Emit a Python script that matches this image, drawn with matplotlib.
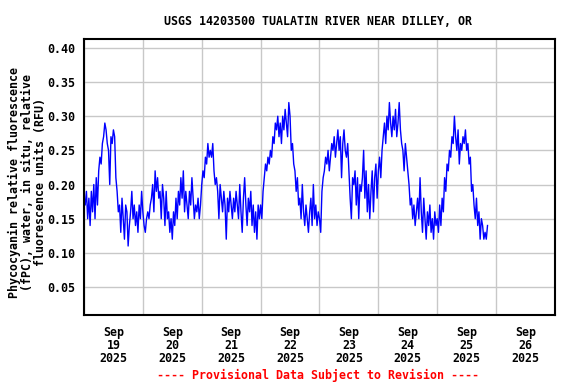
import numpy as np
import pandas as pd
import matplotlib
matplotlib.use('Agg')
import matplotlib.pyplot as plt
import matplotlib.dates as mdates

# Valores de fluorescencia (RFU), cada 30 minutos, un bloque por dia
dia_19 = [0.18, 0.17, 0.19, 0.15, 0.18, 0.14, 0.19, 0.16, 0.20, 0.15, 0.21, 0.17,
          0.22, 0.24, 0.23, 0.26, 0.27, 0.29, 0.28, 0.26, 0.25, 0.20, 0.27, 0.26,
          0.28, 0.27, 0.21, 0.19, 0.16, 0.17, 0.13, 0.18, 0.15, 0.12, 0.17, 0.16,
          0.11, 0.14, 0.16, 0.19, 0.15, 0.17, 0.14, 0.16, 0.13, 0.17, 0.15, 0.19]
dia_20 = [0.16, 0.14, 0.13, 0.15, 0.16, 0.15, 0.17, 0.18, 0.20, 0.16, 0.22, 0.19,
          0.21, 0.18, 0.19, 0.15, 0.20, 0.18, 0.14, 0.19, 0.15, 0.16, 0.13, 0.15,
          0.12, 0.16, 0.14, 0.18, 0.15, 0.19, 0.17, 0.21, 0.18, 0.22, 0.16, 0.19,
          0.17, 0.15, 0.19, 0.17, 0.21, 0.18, 0.15, 0.17, 0.16, 0.18, 0.15, 0.17]
dia_21 = [0.20, 0.22, 0.21, 0.24, 0.23, 0.26, 0.24, 0.25, 0.24, 0.26, 0.22, 0.20,
          0.21, 0.19, 0.15, 0.20, 0.18, 0.16, 0.19, 0.17, 0.12, 0.18, 0.16, 0.19,
          0.17, 0.15, 0.18, 0.16, 0.19, 0.17, 0.15, 0.20, 0.16, 0.13, 0.18, 0.21,
          0.17, 0.14, 0.18, 0.16, 0.19, 0.14, 0.17, 0.13, 0.16, 0.12, 0.17, 0.15]
dia_22 = [0.17, 0.15, 0.19, 0.21, 0.23, 0.22, 0.24, 0.23, 0.25, 0.24, 0.27, 0.26,
          0.29, 0.28, 0.30, 0.27, 0.29, 0.26, 0.30, 0.28, 0.31, 0.29, 0.27, 0.32,
          0.30, 0.25, 0.26, 0.23, 0.22, 0.19, 0.21, 0.17, 0.18, 0.15, 0.20, 0.16,
          0.14, 0.17, 0.15, 0.13, 0.16, 0.18, 0.14, 0.20, 0.15, 0.17, 0.14, 0.16]
dia_23 = [0.15, 0.13, 0.19, 0.21, 0.22, 0.24, 0.23, 0.25, 0.22, 0.24, 0.26, 0.25,
          0.27, 0.24, 0.26, 0.28, 0.25, 0.27, 0.21, 0.26, 0.28, 0.25, 0.24, 0.26,
          0.22, 0.18, 0.15, 0.21, 0.20, 0.22, 0.17, 0.21, 0.15, 0.20, 0.19, 0.21,
          0.25, 0.18, 0.22, 0.16, 0.20, 0.15, 0.19, 0.22, 0.16, 0.21, 0.23, 0.18]
dia_24 = [0.22, 0.24, 0.21, 0.25, 0.27, 0.29, 0.26, 0.30, 0.28, 0.32, 0.29, 0.27,
          0.30, 0.28, 0.31, 0.27, 0.29, 0.32, 0.28, 0.26, 0.25, 0.22, 0.26, 0.24,
          0.22, 0.20, 0.17, 0.18, 0.15, 0.17, 0.14, 0.16, 0.18, 0.15, 0.21, 0.16,
          0.13, 0.18, 0.15, 0.12, 0.16, 0.14, 0.17, 0.13, 0.15, 0.12, 0.16, 0.14]
dia_25 = [0.15, 0.13, 0.17, 0.14, 0.18, 0.16, 0.21, 0.19, 0.23, 0.22, 0.25, 0.24,
          0.27, 0.26, 0.30, 0.27, 0.25, 0.28, 0.23, 0.26, 0.25, 0.27, 0.26, 0.28,
          0.25, 0.26, 0.23, 0.24, 0.19, 0.20, 0.17, 0.15, 0.18, 0.14, 0.16, 0.12,
          0.15, 0.14, 0.12, 0.13, 0.12, 0.14]

valores = dia_19 + dia_20 + dia_21 + dia_22 + dia_23 + dia_24 + dia_25
tiempos = pd.date_range('2025-09-19 00:00', periods=len(valores), freq='30min')

y_ticks = [0.05, 0.10, 0.15, 0.20, 0.25, 0.30, 0.35, 0.40]

titulo = 'USGS 14203500 TUALATIN RIVER NEAR DILLEY, OR'
etiqueta_y = 'Phycocyanin relative fluorescence\n(fPC), water, in situ, relative\nfluorescence units (RFU)'
nota = '---- Provisional Data Subject to Revision ----'

fuente = 'DejaVu Sans Mono'

fig = plt.figure(figsize=(5.76, 3.84), dpi=100)
ax = fig.add_axes([0.1458, 0.1797, 0.8177, 0.7187])

ax.plot(tiempos, valores, color='#0000ff', linewidth=1.0)

# Ejes
ax.set_xlim(pd.Timestamp('2025-09-19'), pd.Timestamp('2025-09-27'))
ax.set_ylim(0.009, 0.413)
ax.set_yticks(y_ticks)
ax.set_yticklabels([f'{v:.2f}' for v in y_ticks])

ax.xaxis.set_major_locator(mdates.HourLocator(byhour=[12]))
ax.xaxis.set_major_formatter(mdates.DateFormatter('%b\n%d\n%Y'))
ax.xaxis.set_minor_locator(mdates.DayLocator())

ax.grid(True, which='minor', axis='x', color='#c8c8c8', linewidth=1)
ax.grid(True, which='major', axis='y', color='#c8c8c8', linewidth=1)
ax.set_axisbelow(True)

ax.tick_params(axis='both', which='both', length=0)
ax.tick_params(axis='y', pad=6)
ax.tick_params(axis='x', pad=8)
for lbl in ax.get_xticklabels() + ax.get_yticklabels():
    lbl.set_fontfamily(fuente)
    lbl.set_fontweight('bold')
    lbl.set_fontsize(8.4)
for lbl in ax.get_xticklabels():
    lbl.set_linespacing(1.0)

for s in ax.spines.values():
    s.set_color('black')
    s.set_linewidth(1.5)

fig.text(0.552, 0.945, titulo, ha='center', va='center', fontfamily=fuente,
         fontweight='bold', fontsize=8.4)
fig.text(0.047, 0.526, etiqueta_y, ha='center', va='center', rotation=90,
         fontfamily=fuente, fontweight='bold', fontsize=8.4, linespacing=1.0)
fig.text(0.552, 0.023, nota, ha='center', va='center', fontfamily=fuente,
         fontweight='bold', fontsize=8.4, color='red')

fig.savefig('out.png', dpi=100)
